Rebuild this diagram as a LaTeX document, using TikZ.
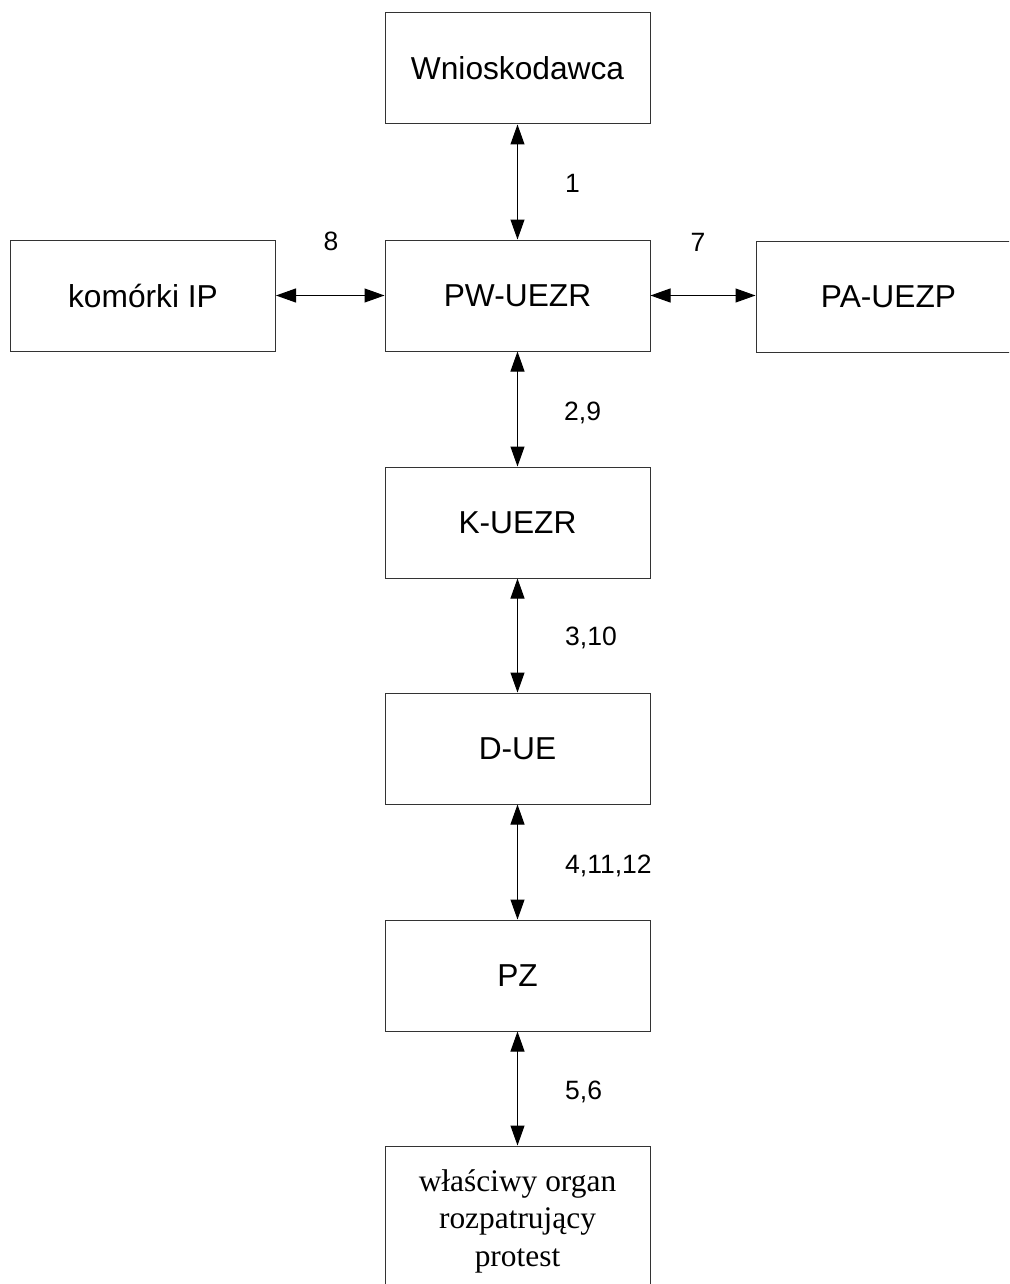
\documentclass[tikz,border=0pt]{standalone}
\usepackage{fontspec}
\setmainfont{Liberation Sans}
\newfontfamily\serifbox{Liberation Serif}
\usetikzlibrary{arrows.meta}
\begin{document}
\begin{tikzpicture}[x=1pt,y=-1pt,
  box/.style={draw=black!80, line width=1pt, minimum width=265pt, minimum height=111pt, inner sep=0pt,
    font=\fontsize{31.7}{36}\selectfont},
  lbl/.style={anchor=west, inner sep=0pt, font=\fontsize{26.5}{30}\selectfont},
  conn/.style={line width=1pt, {Triangle[length=20pt,width=14pt]}-{Triangle[length=20pt,width=14pt]}}]
\clip (0,0) rectangle (1009,1284);
\fill[white] (0,0) rectangle (1009,1284);
\node[box] (wn) at (517.5,68.5) {Wnioskodawca};
\node[box] (kom) at (143,295.5) {komórki IP};
\node[box] (pw) at (517.5,295.5) {PW-UEZR};
\node[box] (pa) at (888.5,297) {PA-UEZP};
\node[box] (k) at (517.5,522.5) {K-UEZR};
\node[box] (d) at (517.5,748.5) {D-UE};
\node[box] (pz) at (517.5,975.5) {PZ};
\node[box, minimum height=150pt, align=center, font=\serifbox\fontsize{31.4}{37.5}\selectfont] (org) at (517.5,1221)
  {właściwy organ\\rozpatrujący\\protest};
\draw[conn] (wn.south) -- (pw.north);
\draw[conn] (pw.south) -- (k.north);
\draw[conn] (k.south) -- (d.north);
\draw[conn] (d.south) -- (pz.north);
\draw[conn] (pz.south) -- (org.north);
\draw[conn] (kom.east) -- (pw.west);
\draw[conn] (pw.east) -- (pw.east -| pa.west);
\node[lbl] (l1) at (565,183) {1};
\node[anchor=center, inner sep=0pt, font=\fontsize{26.5}{30}\selectfont] (l8) at (331,241) {8};
\node[anchor=center, inner sep=0pt, font=\fontsize{26.5}{30}\selectfont] (l7) at (698,242) {7};
\node[lbl] (l29) at (564,413) {2,9};
\node[lbl] (l310) at (565,638) {3,10};
\node[lbl] (l41112) at (565,866) {4,11,12};
\node[lbl] (l56) at (565,1092) {5,6};
\end{tikzpicture}
\end{document}
